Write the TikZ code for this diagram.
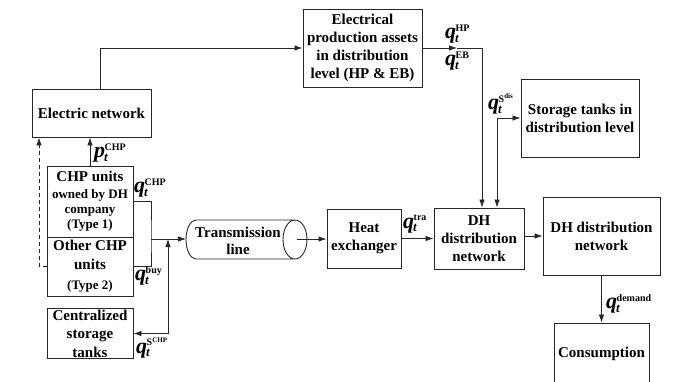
\documentclass[tikz,border=0pt]{standalone}
\usepackage{fontspec}
\setmainfont{Liberation Serif}[BoldFont={Liberation Serif Bold}, ItalicFont={Liberation Serif Italic}, BoldItalicFont={Liberation Serif Bold Italic}]
\usetikzlibrary{arrows.meta}
\newcommand{\qsym}[1]{{\fontsize{22}{22}\selectfont\bfseries\itshape q}\kern-1pt\rlap{\raisebox{-3.5pt}{\fontsize{13}{13}\selectfont\bfseries\itshape t}}\kern0.5pt\raisebox{7.5pt}{\fontsize{10}{10}\selectfont\bfseries #1}}
\newcommand{\psym}[1]{{\fontsize{22}{22}\selectfont\bfseries\itshape p}\kern-1pt\rlap{\raisebox{-3.5pt}{\fontsize{13}{13}\selectfont\bfseries\itshape t}}\kern0.5pt\raisebox{7.5pt}{\fontsize{10}{10}\selectfont\bfseries #1}}
\newcommand{\smalltxt}{\fontsize{13}{18}\selectfont}
\tikzset{
  box/.style={draw=black!85, line width=0.9pt, align=center, inner sep=0pt,
    font=\fontsize{15}{18}\selectfont\bfseries},
  arr/.style={draw=black!85, line width=0.8pt, -{Latex[length=8pt,width=5.5pt]}},
  arrboth/.style={draw=black!85, line width=0.8pt, {Latex[length=8pt,width=5.5pt]}-{Latex[length=8pt,width=5.5pt]}},
  ln/.style={draw=black!85, line width=0.8pt},
  lab/.style={anchor=west, inner sep=0pt},
}
\begin{document}
\begin{tikzpicture}[x=1pt,y=-1pt]
\useasboundingbox (0,0) rectangle (698,381);
\begin{scope}
\clip (0,0) rectangle (698,381);
% boxes
\node[box, minimum width=119pt, minimum height=48pt] (elec) at (91.5,113) {Electric network};
\node[box, minimum width=119pt, minimum height=78pt] (prod) at (362.5,48) {Electrical\\production assets\\in distribution\\level (HP \& EB)};
\node[box, minimum width=118pt, minimum height=78pt] (stor) at (580,118) {Storage tanks in\\distribution level};
\node[box, minimum width=86pt, minimum height=71pt] (chp1) at (90,201.5) {CHP units\\[-1pt]{\smalltxt owned by DH}\\[-3pt]{\smalltxt company}\\[-3pt]{\smalltxt (Type 1)}};
\node[box, minimum width=86pt, minimum height=59pt] (chp2) at (90,266.5) {Other CHP\\[1pt]units\\[2pt]{\smalltxt (Type 2)}};
\node[box, minimum width=86pt, minimum height=50pt, font=\fontsize{15}{18.5}\selectfont\bfseries] (cst) at (90,333.5) {Centralized\\storage\\tanks};
\node[box, minimum width=74pt, minimum height=59pt] (heat) at (364,238.5) {Heat\\exchanger};
\node[box, minimum width=90pt, minimum height=61pt] (dhmid) at (479,238.5) {DH\\distribution\\network};
\node[box, minimum width=117pt, minimum height=78pt] (dhr) at (601.5,236) {DH distribution\\network};
\node[box, minimum width=95pt, minimum height=62pt] (cons) at (601.5,354) {Consumption};
% transmission line cylinder
\draw[black!85, line width=0.9pt] (196,220) -- (295,220)
  (196,220) arc[start angle=-90, end angle=-270, x radius=10, y radius=19.5] -- (295,259)
  (295,239.5) ellipse[x radius=12, y radius=19.5];
\node[font=\fontsize{15}{17}\selectfont\bfseries, align=center, inner sep=0pt] (trans) at (238,241) {Transmission\\line};
\coordinate (transL) at (186,239);
\coordinate (transR) at (297,239);
% connectors
\draw[arr] ([xshift=8.5pt]elec.north) |- (prod.west);
\coordinate (hpmid) at (457,48);
\draw[arr] (prod.east) -- (hpmid);
\draw[ln] (hpmid) -- (482,48);
\draw[arr] (482,48) -- ([xshift=3pt]dhmid.north);
\draw[arrboth] (stor.west) -| ([xshift=18pt]dhmid.north);
\draw[arr] (heat.east) -- (dhmid.west);
\draw[arr] (dhmid.east |- dhr) -- (dhr.west);
\draw[arr] (dhr.south) -- (cons.north);
\draw[arr] (transR) -- (heat.west |- transR);
\coordinate (jn) at (151,239);
\draw[ln] (chp1.east) -| (jn) |- (chp2.east);
\draw[arr] (jn) -- (transL);
\coordinate (cs) at (168,333.5);
\draw[arr] (cs) -- (cs |- jn);
\draw[arr] (cs) -- (cst.east);
\draw[arr] (chp1.north) -- (chp1.north |- elec.south);
\coordinate (dc) at (39,266.5);
\draw[arr, dash pattern=on 4pt off 3pt] (chp2.west) -- (dc) -- (dc |- elec.south);
% labels
\node[lab] (lp) at (94,153) {\psym{CHP}};
\node[lab] (lqchp) at (134,188) {\qsym{CHP}};
\node[lab] (lqbuy) at (135,276) {\qsym{buy}};
\node[lab] (lqs) at (136,348) {\qsym{S\raisebox{3.5pt}{\fontsize{7}{7}\selectfont CHP}}};
\node[lab] (lqhp) at (445,34) {\qsym{HP}};
\node[lab] (lqeb) at (445,61) {\qsym{EB}};
\node[lab] (lqsd) at (488,104) {\qsym{S\raisebox{3.5pt}{\fontsize{7}{7}\selectfont dis}}};
\node[lab] (lqtra) at (403,224) {\qsym{tra}};
\node[lab] (lqdem) at (606,304) {\qsym{demand}};
\end{scope}
\end{tikzpicture}
\end{document}
